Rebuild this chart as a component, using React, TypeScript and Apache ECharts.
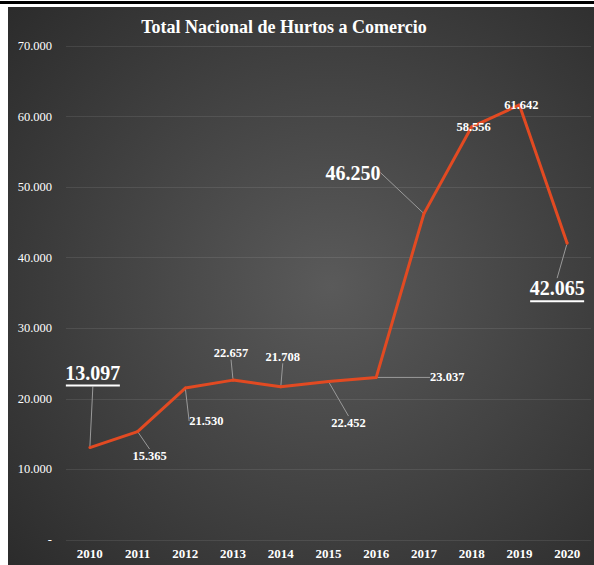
import React, { useEffect, useRef } from "react";
import * as echarts from "echarts";

const years = ["2010", "2011", "2012", "2013", "2014", "2015", "2016", "2017", "2018", "2019", "2020"];
const hurtos = [13097, 15365, 21530, 22657, 21708, 22452, 23037, 46250, 58556, 61642, 42065];
const yTicks = [0, 10000, 20000, 30000, 40000, 50000, 60000, 70000];
const titleText = "Total Nacional de Hurtos a Comercio";

// label placement (style only)
const labelShift: [number, number][] = [
  [3, -73], [12, 24], [21, 33], [-2, -27], [2, -30], [20, 41], [71, 0], [-71, -41], [2, 0], [2, 0], [-10, 47],
];
const bigUnderlined = [0, 10];
const bigPlain = [7];
const noLeader = [8, 9];

const fmt = (v: number) => (v === 0 ? "-" : String(v).replace(/\B(?=(\d{3})+(?!\d))/g, "."));

export default function App() {
  const ref = useRef<HTMLDivElement>(null);
  useEffect(() => {
    const chart = echarts.init(ref.current!, undefined, { renderer: "svg" });
    const serif = "'Liberation Serif', 'Times New Roman', serif";
    const data = hurtos.map((v, i) => {
      const item: any = { value: v };
      if (bigUnderlined.includes(i)) {
        item.label = { formatter: "{v|" + fmt(v) + "}\n{u| }" };
      } else if (bigPlain.includes(i)) {
        item.label = { formatter: "{v|" + fmt(v) + "}" };
      }
      if (noLeader.includes(i)) item.labelLine = { show: false };
      return item;
    });
    chart.setOption({
      animation: false,
      backgroundColor: "#ffffff",
      graphic: [
        { type: "rect", z: -10, shape: { x: 0, y: 1, width: 594, height: 3 }, style: { fill: "#000" }, silent: true },
        {
          type: "rect",
          z: -10,
          shape: { x: 8, y: 7, width: 586, height: 558 },
          style: {
            fill: new echarts.graphic.RadialGradient(0.55, 0.5, 0.75, [
              { offset: 0, color: "#5a5a5a" },
              { offset: 1, color: "#2b2b2b" },
            ]),
          },
          silent: true,
        },
      ],
      title: {
        text: titleText,
        left: 279,
        top: 13,
        textAlign: "center",
        textStyle: { color: "#ffffff", fontFamily: serif, fontWeight: "bold", fontSize: 18 },
      },
      grid: { left: 66, right: 3, top: 46, bottom: 25, containLabel: false },
      xAxis: {
        type: "category",
        data: years,
        boundaryGap: true,
        axisLine: { show: false },
        axisTick: { show: false },
        axisLabel: { color: "#ffffff", fontFamily: serif, fontWeight: "bold", fontSize: 13, margin: 7 },
      },
      yAxis: {
        type: "value",
        min: 0,
        max: 70000,
        interval: 10000,
        axisLine: { show: false },
        axisTick: { show: false },
        splitLine: { lineStyle: { color: "rgba(255,255,255,0.09)", width: 1 } },
        axisLabel: {
          color: "#ffffff",
          fontFamily: serif,
          fontSize: 12.5,
          margin: 14,
          formatter: (v: number) => fmt(v),
        },
      },
      series: [
        {
          type: "line",
          data,
          symbol: "circle",
          symbolSize: 3,
          showSymbol: true,
          lineStyle: { color: "#E24A22", width: 3 },
          itemStyle: { color: "#E24A22" },
          label: {
            show: true,
            position: "inside",
            color: "#ffffff",
            fontFamily: serif,
            fontWeight: "bold",
            fontSize: 12.5,
            formatter: (p: any) => fmt(p.value),
            rich: {
              v: { color: "#ffffff", fontFamily: serif, fontWeight: "bold", fontSize: 20, lineHeight: 22 },
              u: { width: 54, height: 2, lineHeight: 4, fontSize: 2, backgroundColor: "#ffffff" },
            },
          },
          labelLine: { show: true, lineStyle: { color: "#9a9a9a", width: 1 } },
          labelLayout: (p: any) => {
            const s = labelShift[p.dataIndex] || [0, 0];
            return { dx: s[0], dy: s[1] };
          },
        },
      ],
    });
    return () => chart.dispose();
  }, []);
  return (
    <div
      ref={ref}
      style={{ position: "fixed", left: 0, top: 0, width: 594, height: 565 }}
    />
  );
}
